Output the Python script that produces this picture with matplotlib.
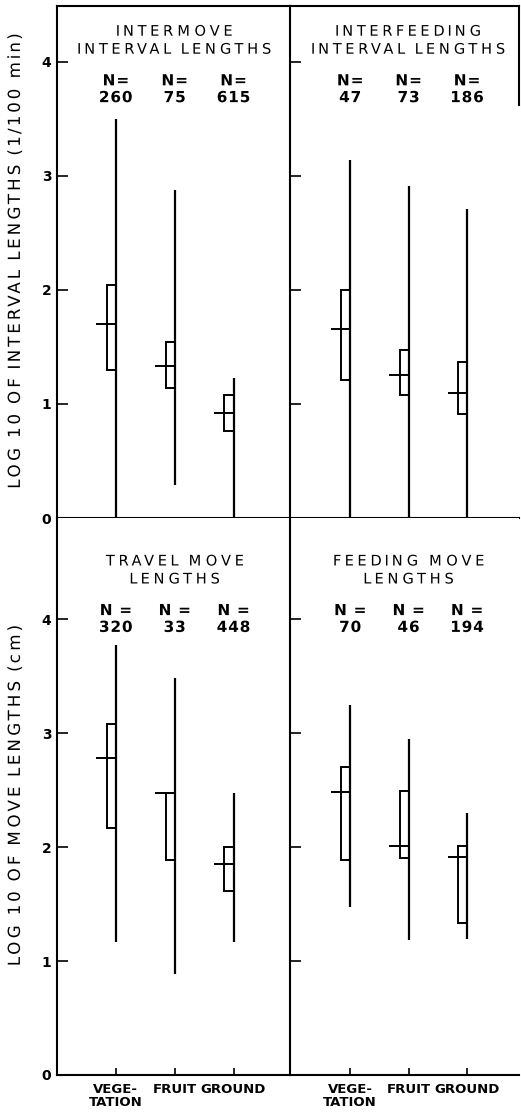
import numpy as np
import matplotlib.pyplot as plt
from matplotlib.patches import Rectangle
from matplotlib.patheffects import AbstractPathEffect
from matplotlib.path import Path

plt.rcParams["font.family"] = ["DejaVu Sans"]

KATEGORI = ["VEGE-\nTATION", "FRUIT", "GROUND"]

# intermove interval lengths
im_n = [260, 75, 615]
im_max = [3.50, 2.88, 1.23]
im_min = [0.00, 0.29, 0.00]
im_q3 = [2.04, 1.54, 1.08]
im_q1 = [1.30, 1.14, 0.76]
im_mid = [1.70, 1.33, 0.92]

# interfeeding interval lengths
if_n = [47, 73, 186]
if_max = [3.14, 2.91, 2.71]
if_min = [0.00, 0.00, 0.00]
if_q3 = [2.00, 1.47, 1.37]
if_q1 = [1.21, 1.08, 0.91]
if_mid = [1.66, 1.25, 1.10]

# travel move lengths
tm_n = [320, 33, 448]
tm_max = [3.77, 3.48, 2.47]
tm_min = [1.17, 0.89, 1.17]
tm_q3 = [3.08, 2.47, 2.00]
tm_q1 = [2.17, 1.89, 1.61]
tm_mid = [2.78, 2.47, 1.85]

# feeding move lengths
fm_n = [70, 46, 194]
fm_max = [3.25, 2.95, 2.30]
fm_min = [1.47, 1.18, 1.19]
fm_q3 = [2.70, 2.49, 2.01]
fm_q1 = [1.89, 1.90, 1.33]
fm_mid = [2.48, 2.01, 1.91]

YTICKS = [0, 1, 2, 3, 4]
YMAX_ATAS = 4.49
YMAX_BAWAH = 4.886
BOX_W = 0.155
MED_W = 0.33
LW = 1.5


class SpasiHuruf(AbstractPathEffect):
    # renggangkan huruf (letter spacing) seperti hasil cetak aslinya
    def __init__(self, k):
        super().__init__()
        self.k = k

    def draw_path(self, renderer, gc, tpath, affine, rgbFace=None):
        verts = tpath.vertices.copy()
        codes = tpath.codes
        if codes is None or len(verts) == 0:
            renderer.draw_path(gc, tpath, affine, rgbFace)
            return
        valid = codes != Path.CLOSEPOLY
        tengah = (verts[valid, 0].min() + verts[valid, 0].max()) / 2
        awal = list(np.where(codes == Path.MOVETO)[0]) + [len(verts)]
        for s, e in zip(awal[:-1], awal[1:]):
            m = valid[s:e]
            cx = (verts[s:e][m, 0].min() + verts[s:e][m, 0].max()) / 2
            verts[s:e, 0] += self.k * (cx - tengah)
        renderer.draw_path(gc, Path(verts, codes), affine, rgbFace)


W, H = 521, 1112
x_kiri, x_tengah, x_kanan = 57 / W, 290 / W, 519 / W
y_atas, y_tengah, y_bawah = 1 - 6 / H, 1 - 518 / H, 1 - 1075 / H

fig = plt.figure(figsize=(W / 100, H / 100), dpi=100)
ax_tl = fig.add_axes([x_kiri, y_tengah, x_tengah - x_kiri, y_atas - y_tengah])
ax_tr = fig.add_axes([x_tengah, y_tengah, x_kanan - x_tengah, y_atas - y_tengah])
ax_bl = fig.add_axes([x_kiri, y_bawah, x_tengah - x_kiri, y_tengah - y_bawah])
ax_br = fig.add_axes([x_tengah, y_bawah, x_kanan - x_tengah, y_tengah - y_bawah])


def gambar_panel(ax, n, lo, hi, q1, q3, mid, judul, ymax, y_judul, y_n, teks_n):
    pos = np.arange(1, len(n) + 1)
    ax.vlines(pos, lo, hi, color="black", lw=1.6)
    for x, a, b in zip(pos, q1, q3):
        ax.add_patch(Rectangle((x - BOX_W, a), BOX_W, b - a, fill=False,
                               ec="black", lw=1.4))
    ax.hlines(mid, pos - MED_W, pos, color="black", lw=1.4)

    ax.text(2, y_judul, judul, ha="center", va="center", fontsize=10.5,
            linespacing=1.25, path_effects=[SpasiHuruf(0.38)])
    for x, nilai in zip(pos, n):
        ax.text(x, y_n, f"{teks_n}\n{nilai}", ha="center", va="center",
                fontsize=11, fontweight="bold", linespacing=1.15,
                path_effects=[SpasiHuruf(0.08)])

    ax.set_ylim(0, ymax)
    ax.set_yticks(YTICKS)
    ax.tick_params(axis="y", direction="in", length=8, width=1.2, pad=4,
                   labelsize=10)
    for lab in ax.get_yticklabels():
        lab.set_fontweight("bold")
    for s in ax.spines.values():
        s.set_linewidth(LW)


gambar_panel(ax_tl, im_n, im_min, im_max, im_q1, im_q3, im_mid,
             "INTERMOVE\nINTERVAL LENGTHS", YMAX_ATAS, 4.19, 3.76, "N=")
gambar_panel(ax_tr, if_n, if_min, if_max, if_q1, if_q3, if_mid,
             "INTERFEEDING\nINTERVAL LENGTHS", YMAX_ATAS, 4.19, 3.76, "N=")
gambar_panel(ax_bl, tm_n, tm_min, tm_max, tm_q1, tm_q3, tm_mid,
             "TRAVEL MOVE\nLENGTHS", YMAX_BAWAH, 4.43, 4.0, "N =")
gambar_panel(ax_br, fm_n, fm_min, fm_max, fm_q1, fm_q3, fm_mid,
             "FEEDING MOVE\nLENGTHS", YMAX_BAWAH, 4.43, 4.0, "N =")

ax_tl.set_xlim(0, 3.96)
ax_bl.set_xlim(0, 3.96)
ax_tr.set_xlim(-0.03, 3.89)
ax_br.set_xlim(-0.03, 3.89)

for ax in [ax_tl, ax_tr]:
    ax.set_xticks([])
for ax in [ax_bl, ax_br]:
    ax.set_xticks([1, 2, 3])
    ax.set_xticklabels(KATEGORI, fontsize=9.5, fontweight="bold",
                       linespacing=0.95)
    ax.tick_params(axis="x", direction="in", length=5, width=1.2, pad=6)
    ax.spines["top"].set_visible(False)
    ax.spines["right"].set_visible(False)

ax_tl.spines["right"].set_visible(False)
ax_tr.spines["right"].set_bounds(3.62, YMAX_ATAS)
ax_tr.tick_params(axis="y", labelleft=False)
ax_br.tick_params(axis="y", labelleft=False)

ax_tl.set_ylabel("LOG 10 OF INTERVAL LENGTHS (1/100 min)", fontsize=12,
                 path_effects=[SpasiHuruf(0.27)])
ax_bl.set_ylabel("LOG 10 OF MOVE LENGTHS (cm)", fontsize=12,
                 path_effects=[SpasiHuruf(0.27)])
ax_tl.yaxis.set_label_coords(-0.142, 0.5)
ax_bl.yaxis.set_label_coords(-0.142, 0.5)

plt.savefig("out.png", dpi=100)
plt.close()
